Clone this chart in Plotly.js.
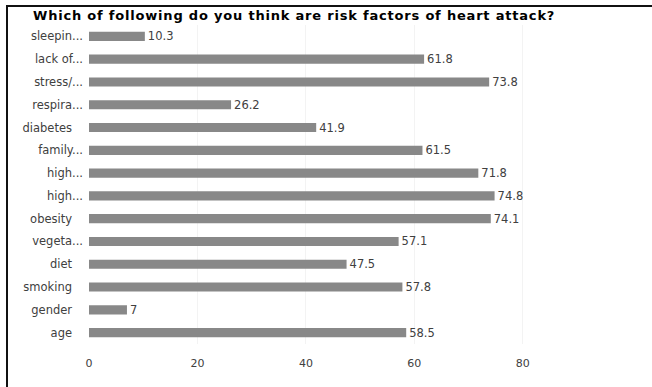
<!DOCTYPE html>
<html>
<head>
<meta charset="utf-8">
<script src="https://cdn.plot.ly/plotly-3.0.1.min.js"></script>
<style>
  html, body { margin: 0; padding: 0; background: #fff; }
  #wrap { position: relative; width: 652px; height: 387px; overflow: hidden; }
  #chart { position: absolute; left: 0; top: 0; width: 652px; height: 387px; }
  #bt { position: absolute; left: 6px; top: 5px; width: 646px; height: 2px; background: #111; pointer-events: none; }
  #bl { position: absolute; left: 6px; top: 5px; width: 2px; height: 382px; background: #111; pointer-events: none; }
  #chart .gtitle { letter-spacing: 0.8px; }
</style>
</head>
<body>
<div id="wrap">
  <div id="chart"></div>
  <div id="bt"></div>
  <div id="bl"></div>
</div>
<script>
const categories = ["sleepin...", "lack of...", "stress/...", "respira...", "diabetes", "family...", "high...", "high...", "obesity", "vegeta...", "diet", "smoking", "gender", "age"];
const values = [10.3, 61.8, 73.8, 26.2, 41.9, 61.5, 71.8, 74.8, 74.1, 57.1, 47.5, 57.8, 7, 58.5];
const xTicks = [0, 20, 40, 60, 80];
const chartTitle = "Which of following do you think are risk factors of heart attack?";

const positions = categories.map((_, i) => i);
// untruncated labels sit a little further left, as in the source chart
const tickLabels = categories.map(c => c.endsWith('...') ? c : c + '\u00a0\u00a0\u00a0');
const FONT = '"DejaVu Sans", sans-serif';

const trace = {
  type: 'bar',
  orientation: 'h',
  x: values,
  y: positions,
  marker: { color: '#888888' },
  text: values.map(v => String(v)),
  textposition: 'outside',
  constraintext: 'none',
  cliponaxis: false,
  textfont: { family: FONT, size: 11.5, color: '#404040' },
  hoverinfo: 'none'
};

const layout = {
  width: 652,
  height: 387,
  paper_bgcolor: '#ffffff',
  plot_bgcolor: '#ffffff',
  margin: { l: 89, r: 75, t: 25, b: 43 },
  showlegend: false,
  bargap: 0.6,
  font: { family: FONT, size: 11, color: '#404040' },
  title: {
    text: chartTitle,
    font: { family: FONT, size: 13, color: '#000000', weight: 'bold' },
    xref: 'container', x: 33 / 652, xanchor: 'left',
    yref: 'container', y: 1 - 15 / 387, yanchor: 'middle'
  },
  xaxis: {
    range: [0, 90],
    tickvals: xTicks,
    ticktext: xTicks.map(String),
    showgrid: true,
    gridcolor: '#f3f3f3',
    gridwidth: 1,
    zeroline: false,
    showline: false,
    ticks: '',
    ticklabelstandoff: 11,
    tickfont: { family: FONT, size: 11, color: '#404040' }
  },
  yaxis: {
    range: [13.5, -0.5],
    tickvals: positions,
    ticktext: tickLabels,
    showgrid: false,
    zeroline: false,
    showline: false,
    ticks: '',
    ticklabelstandoff: 5,
    tickfont: { family: FONT, size: 11.5, color: '#404040' }
  }
};

Plotly.newPlot('chart', [trace], layout, { displayModeBar: false, staticPlot: true });
</script>
</body>
</html>
